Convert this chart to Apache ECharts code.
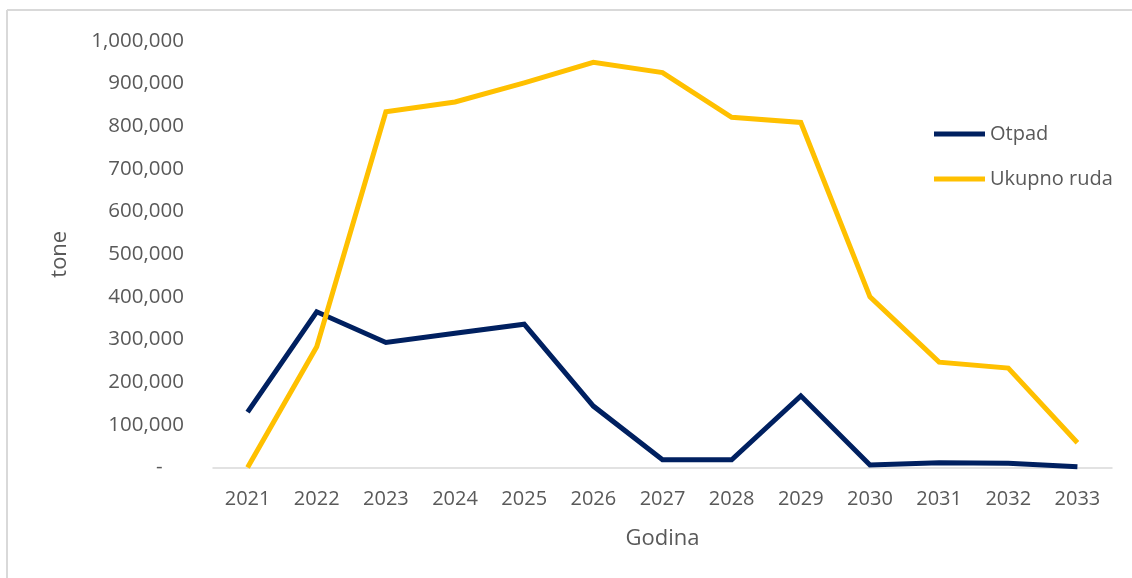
<!DOCTYPE html>
<html>
<head>
<meta charset="utf-8">
<script src="https://cdn.jsdelivr.net/npm/echarts@6/dist/echarts.min.js"></script>
<style>html,body{margin:0;padding:0;background:#fff}#c{width:1132px;height:578px}</style>
</head>
<body>
<div id="c"></div>
<script>
var years = ['2021','2022','2023','2024','2025','2026','2027','2028','2029','2030','2031','2032','2033'];
var otpad = [130000, 365000, 293000, 315000, 336000, 144000, 18000, 18000, 168000, 6000, 11000, 10000, 2000];
var ukupnoRuda = [0, 283000, 834000, 857000, 902000, 950000, 926000, 821000, 809000, 400000, 247000, 233000, 58000];
var seriesNames = ['Otpad', 'Ukupno ruda'];
var xName = 'Godina';
var yName = 'tone';

var font = '"Open Sans", "Noto Sans", sans-serif';
var chart = echarts.init(document.getElementById('c'), null, {renderer: 'canvas'});
chart.setOption({
  animation: false,
  backgroundColor: '#ffffff',
  graphic: [
    {type: 'line', shape: {x1: 7, y1: 10, x2: 1140, y2: 10}, style: {stroke: '#d9d9d9', lineWidth: 2}},
    {type: 'line', shape: {x1: 7, y1: 10, x2: 7, y2: 590}, style: {stroke: '#d9d9d9', lineWidth: 2}}
  ],
  grid: {left: 213, right: 20, top: 41, bottom: 578 - 467.5},
  legend: {
    orient: 'vertical',
    left: 929, top: 119,
    itemWidth: 51, itemHeight: 5, itemGap: 25,
    icon: 'rect',
    textStyle: {fontFamily: font, fontSize: 20, color: '#595959', padding: [0, 0, 0, 0]},
    data: seriesNames
  },
  xAxis: {
    type: 'category',
    data: years,
    boundaryGap: true,
    name: xName,
    nameLocation: 'middle',
    nameGap: 60,
    nameTextStyle: {fontFamily: font, fontSize: 22, color: '#595959'},
    axisLine: {lineStyle: {color: '#d9d9d9', width: 1.5}},
    axisTick: {show: false},
    axisLabel: {fontFamily: font, fontSize: 20, color: '#595959', margin: 22}
  },
  yAxis: {
    type: 'value',
    min: 0, max: 1000000, interval: 100000,
    name: yName,
    nameLocation: 'middle',
    nameGap: 142,
    nameRotate: 90,
    nameTextStyle: {fontFamily: font, fontSize: 22, color: '#595959'},
    splitLine: {show: false},
    axisLine: {show: false},
    axisTick: {show: false},
    axisLabel: {
      fontFamily: font, fontSize: 20.5, color: '#595959', margin: 29,
      formatter: function (v) { return v === 0 ? '-    ' : v.toLocaleString('en-US'); }
    }
  },
  series: [
    {name: seriesNames[0], type: 'line', data: otpad, symbol: 'none', lineStyle: {width: 5, color: '#002060', join: 'miter'}, itemStyle: {color: '#002060'}},
    {name: seriesNames[1], type: 'line', data: ukupnoRuda, symbol: 'none', lineStyle: {width: 5, color: '#FFC000', join: 'miter'}, itemStyle: {color: '#FFC000'}}
  ]
});
</script>
</body>
</html>
